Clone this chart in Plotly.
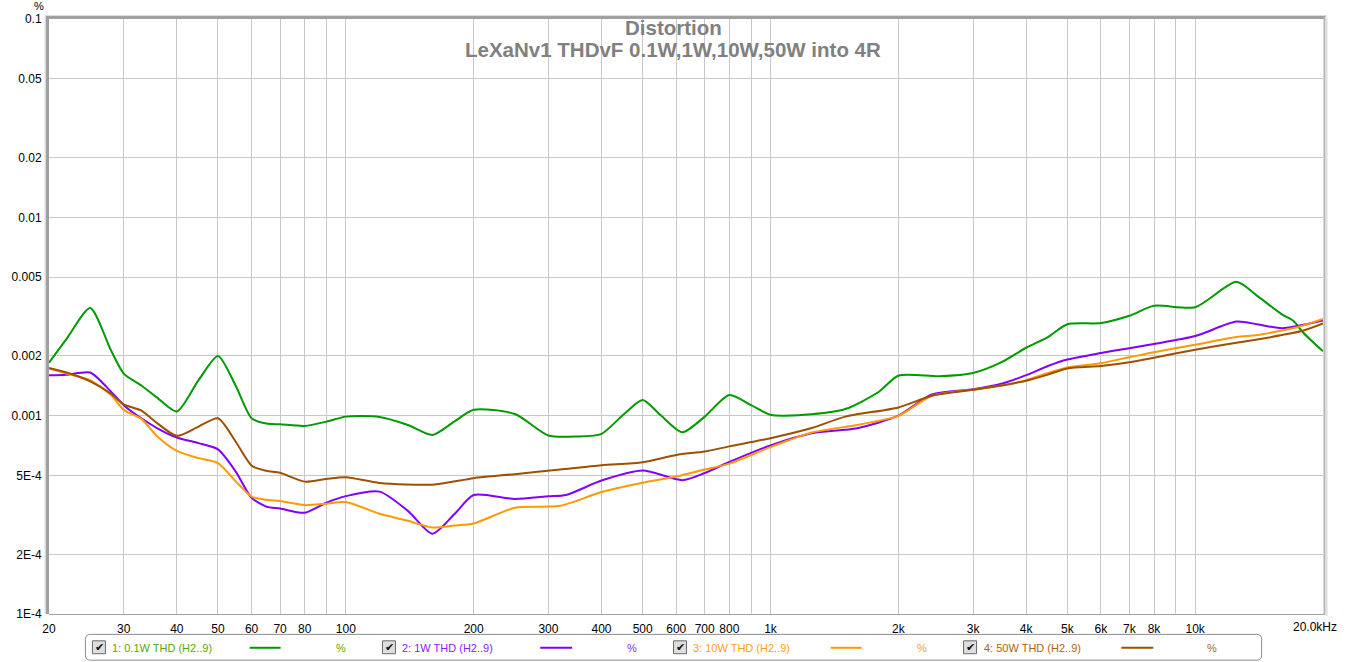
import numpy as np
import plotly.graph_objects as go

# ---------------- data (THD in %) ----------------
series_names = ["1: 0.1W THD (H2..9)", "2: 1W THD (H2..9)", "3: 10W THD (H2..9)", "4: 50W THD (H2..9)"]
series_colors = ["#009a00", "#8000ff", "#ff9900", "#9c5000"]
legend_text_colors = ["#5aa800", "#8a1aff", "#ff9d1a", "#b06010"]

f_01w = [20, 22, 25, 28, 30, 33, 36, 40, 45, 50, 55, 60, 65, 70, 80, 90, 100, 120, 140, 160, 180, 200,
         250, 300, 350, 400, 450, 500, 550, 620, 700, 800, 900, 1000, 1200, 1500, 1800, 2000, 2500,
         3000, 3500, 4000, 4500, 5000, 6000, 7000, 8000, 10000, 12500, 14000, 16000, 17000, 18000, 20000]
thd_01w = [0.00185, 0.00244, 0.00349, 0.00213, 0.00163, 0.00142, 0.00123, 0.00105, 0.00151, 0.0020,
           0.00142, 0.00097, 0.000912, 0.000905, 0.000888, 0.000933, 0.000989, 0.000985, 0.000898,
           0.0008, 0.000933, 0.00107, 0.00102, 0.000794, 0.000785, 0.00081, 0.00101, 0.0012, 0.00101,
           0.000825, 0.000989, 0.00127, 0.00113, 0.00101, 0.00101, 0.00108, 0.00132, 0.00159, 0.00158,
           0.00164, 0.00186, 0.0022, 0.00249, 0.00289, 0.00293, 0.00319, 0.00358, 0.00352, 0.00473,
           0.00402, 0.00324, 0.00302, 0.00261, 0.00211]

f_1w = [20, 22, 25, 28, 30, 33, 36, 40, 45, 50, 55, 60, 65, 70, 80, 90, 100, 120, 140, 160, 180, 200,
        250, 300, 330, 400, 500, 620, 700, 800, 1000, 1250, 1600, 2000, 2400, 3000, 3500, 4000, 4500,
        5000, 6000, 7000, 8000, 10000, 12500, 14000, 16000, 18000, 20000]
thd_1w = [0.0016, 0.00161, 0.00165, 0.00132, 0.00113, 0.00097, 0.000864, 0.000776, 0.000727, 0.000676,
          0.000524, 0.000385, 0.000348, 0.00034, 0.000324, 0.000364, 0.000393, 0.000414, 0.000331,
          0.000254, 0.000318, 0.000398, 0.00038, 0.000392, 0.000398, 0.000471, 0.000529, 0.000473,
          0.000514, 0.000584, 0.000708, 0.000815, 0.000864, 0.001, 0.00128, 0.00136, 0.00145, 0.0016,
          0.00178, 0.00192, 0.00207, 0.00219, 0.0023, 0.00252, 0.00298, 0.00289, 0.00276, 0.00287, 0.00302]

f_10w = [20, 22, 25, 28, 30, 33, 36, 40, 45, 50, 55, 60, 65, 70, 80, 90, 100, 120, 140, 160, 180, 200,
         250, 320, 400, 500, 600, 700, 800, 1000, 1250, 1600, 2000, 2400, 3000, 3500, 4000, 4500, 5000,
         6000, 7000, 8000, 10000, 12500, 14000, 16000, 18000, 20000]
thd_10w = [0.00173, 0.00163, 0.00151, 0.00127, 0.00107, 0.000963, 0.000785, 0.000664, 0.000611, 0.000577,
           0.000467, 0.000391, 0.000377, 0.000371, 0.000354, 0.00036, 0.000367, 0.00032, 0.000295,
           0.000273, 0.000279, 0.000286, 0.000343, 0.000351, 0.000412, 0.000459, 0.000493, 0.000535,
           0.000573, 0.000694, 0.000822, 0.000898, 0.000997, 0.00126, 0.00135, 0.00142, 0.00151, 0.00164,
           0.00175, 0.00184, 0.00197, 0.00209, 0.00228, 0.00249, 0.00255, 0.00269, 0.00285, 0.00307]

f_50w = [20, 22, 25, 28, 30, 33, 36, 40, 45, 50, 55, 60, 65, 70, 80, 90, 100, 120, 160, 200, 250, 320,
         400, 500, 600, 700, 800, 1000, 1250, 1500, 2000, 2400, 3000, 3500, 4000, 4500, 5000, 6000, 7000,
         8000, 10000, 12500, 14000, 16000, 18000, 20000]
thd_50w = [0.00174, 0.00165, 0.00149, 0.00129, 0.00114, 0.00106, 0.000915, 0.000791, 0.000881, 0.00097,
           0.000741, 0.000560, 0.000527, 0.000515, 0.000465, 0.00048, 0.000489, 0.000458, 0.000449,
           0.000484, 0.000507, 0.000535, 0.000562, 0.000582, 0.000634, 0.00066, 0.0007, 0.00077, 0.000866,
           0.000989, 0.0011, 0.00126, 0.00135, 0.00142, 0.0015, 0.00161, 0.00173, 0.00178, 0.00186,
           0.00196, 0.00215, 0.00233, 0.00242, 0.00255, 0.00269, 0.00292]

freqs = [f_01w, f_1w, f_10w, f_50w]
values = [thd_01w, thd_1w, thd_10w, thd_50w]

x_grid = [20, 30, 40, 50, 60, 70, 80, 90, 100, 200, 300, 400, 500, 600, 700, 800, 900, 1000,
          2000, 3000, 4000, 5000, 6000, 7000, 8000, 9000, 10000, 20000]
x_labels = ["20", "30", "40", "50", "60", "70", "80", "", "100", "200", "300", "400", "500", "600",
            "700", "800", "", "1k", "2k", "3k", "4k", "5k", "6k", "7k", "8k", "", "10k", ""]
x_end_label = "20.0kHz"
y_grid = [1e-4, 2e-4, 5e-4, 0.001, 0.002, 0.005, 0.01, 0.02, 0.05, 0.1]
y_labels = ["1E-4", "2E-4", "5E-4", "0.001", "0.002", "0.005", "0.01", "0.02", "0.05", "0.1"]
x_major = [100, 1000, 10000]
y_major = [0.001, 0.01]

title_1 = "Distortion"
title_2 = "LeXaNv1 THDvF 0.1W,1W,10W,50W into 4R"

# ---------------- layout helpers ----------------
W, H = 1346, 662
ML, MR, MT, MB = 47, 23, 15, 48
PW, PH = W - ML - MR, H - MT - MB


def px(x):
    return (x - ML) / PW


def py(y):
    return (H - MB - y) / PH


FONT = "Liberation Sans, Arial, sans-serif"

fig = go.Figure()
for f, v, name, col in zip(freqs, values, series_names, series_colors):
    fig.add_trace(go.Scatter(x=f, y=v, mode="lines", name=name,
                             line=dict(color=col, width=2, shape="spline", smoothing=0.7),
                             showlegend=False, hoverinfo="skip"))

shapes = []
# decade grid lines (darker)
for xv in x_major:
    shapes.append(dict(type="line", xref="x", yref="paper", x0=np.log10(xv), x1=np.log10(xv),
                       y0=0, y1=1, line=dict(color="#808080", width=1), layer="below"))
for yv in y_major:
    shapes.append(dict(type="line", xref="paper", yref="y", x0=0, x1=1, y0=np.log10(yv),
                       y1=np.log10(yv), line=dict(color="#808080", width=1), layer="below"))


def pline(x0, y0, x1, y1, color, width):
    shapes.append(dict(type="line", xref="paper", yref="paper", x0=px(x0), y0=py(y0), x1=px(x1),
                       y1=py(y1), line=dict(color=color, width=width), layer="above"))


# frame
pline(43.5, 11, 43.5, 614, "#dcdcdc", 2)
pline(45.5, 12, 45.5, 614, "#a0a0a0", 3)
pline(43, 12, 1327, 12, "#dcdcdc", 2)
pline(44, 13.5, 1325, 13.5, "#a0a0a0", 3)
pline(1324.5, 13, 1324.5, 615, "#b4b4b4", 2)
pline(1326.5, 14, 1326.5, 616, "#dedede", 2)
pline(47, 614.5, 1324, 614.5, "#a0a0a0", 1)

# legend box (rounded)
bx0, bx1, by0, by1, r = 83.5, 1261.5, 634.5, 660.5, 5
path = (f"M {px(bx0 + r)},{py(by0)} L {px(bx1 - r)},{py(by0)} Q {px(bx1)},{py(by0)} {px(bx1)},{py(by0 + r)} "
        f"L {px(bx1)},{py(by1 - r)} Q {px(bx1)},{py(by1)} {px(bx1 - r)},{py(by1)} "
        f"L {px(bx0 + r)},{py(by1)} Q {px(bx0)},{py(by1)} {px(bx0)},{py(by1 - r)} "
        f"L {px(bx0)},{py(by0 + r)} Q {px(bx0)},{py(by0)} {px(bx0 + r)},{py(by0)} Z")
shapes.append(dict(type="path", xref="paper", yref="paper", path=path,
                   line=dict(color="#8c8c8c", width=1), fillcolor="white", layer="above"))

annotations = []
check_x = [97, 387.5, 679, 969.5]
label_x = [108, 399, 690, 981]
line_x = [(248, 279), (539, 571), (830, 861), (1121, 1153)]
pct_x = [332, 624, 914, 1205]
ly = 648
for i in range(4):
    cx = check_x[i]
    shapes.append(dict(type="rect", xref="paper", yref="paper", x0=px(cx - 6.5), x1=px(cx + 6.5),
                       y0=py(ly - 7), y1=py(ly + 6), line=dict(color="#6a6a6a", width=1),
                       fillcolor="#dedede", layer="above"))
    annotations.append(dict(xref="paper", yref="paper", x=px(cx + 0.5), y=py(ly - 0.5), text="✔",
                            showarrow=False, xanchor="center", yanchor="middle",
                            font=dict(family="DejaVu Sans", size=11, color="#111111")))
    annotations.append(dict(xref="paper", yref="paper", x=px(label_x[i]), y=py(ly), text=series_names[i],
                            showarrow=False, xanchor="left", yanchor="middle",
                            font=dict(family=FONT, size=11, color=legend_text_colors[i])))
    shapes.append(dict(type="line", xref="paper", yref="paper", x0=px(line_x[i][0]), x1=px(line_x[i][1]),
                       y0=py(ly), y1=py(ly), line=dict(color=series_colors[i], width=2), layer="above"))
    annotations.append(dict(xref="paper", yref="paper", x=px(pct_x[i]), y=py(ly), text="%",
                            showarrow=False, xanchor="left", yanchor="middle",
                            font=dict(family=FONT, size=11, color=legend_text_colors[i])))

# titles
annotations.append(dict(xref="paper", yref="paper", x=px(672), y=py(23.5), text=f"<b>{title_1}</b>",
                        showarrow=False, xanchor="center", yanchor="middle",
                        font=dict(family=FONT, size=20.5, color="#808080")))
annotations.append(dict(xref="paper", yref="paper", x=px(672), y=py(45.5), text=f"<b>{title_2}</b>",
                        showarrow=False, xanchor="center", yanchor="middle",
                        font=dict(family=FONT, size=20.5, color="#808080")))
# unit label
annotations.append(dict(xref="paper", yref="paper", x=px(36.5), y=py(1.5), text="%",
                        showarrow=False, xanchor="center", yanchor="middle", borderpad=0,
                        font=dict(family=FONT, size=11, color="black")))
# last x label (drawn slightly left of the axis end, as in the original)
annotations.append(dict(xref="paper", yref="paper", x=px(1339), y=py(627), text=x_end_label,
                        showarrow=False, xanchor="right", yanchor="middle",
                        font=dict(family=FONT, size=12, color="black")))

fig.update_layout(
    autosize=True,
    margin=dict(l=ML, r=MR, t=MT, b=MB, pad=0),
    paper_bgcolor="white", plot_bgcolor="white",
    font=dict(family=FONT, size=12, color="black"),
    shapes=shapes, annotations=annotations,
    showlegend=False,
)
fig.update_xaxes(type="log", range=[np.log10(20), np.log10(20000)], tickmode="array",
                 tickvals=x_grid, ticktext=x_labels, showgrid=True, gridcolor="#c8c8c8", gridwidth=1,
                 showline=False, zeroline=False, ticks="outside", ticklen=4, tickcolor="rgba(0,0,0,0)",
                 tickfont=dict(size=12, color="black"))
fig.update_yaxes(type="log", range=[-4, -1], tickmode="array", tickvals=y_grid, ticktext=y_labels,
                 showgrid=True, gridcolor="#c8c8c8", gridwidth=1, showline=False, zeroline=False,
                 ticks="outside", ticklen=4, tickcolor="rgba(0,0,0,0)",
                 tickfont=dict(size=12, color="black"))

post = ("document.documentElement.style.margin='0';document.documentElement.style.height='100%';"
        "document.documentElement.style.overflow='hidden';"
        "document.body.style.margin='0';document.body.style.height='100%';document.body.style.overflow='hidden';"
        "var gd=document.getElementById('{plot_id}');gd.style.width='100vw';gd.style.height='100vh';"
        "Plotly.Plots.resize(gd);")
fig.write_html("out.html", config={"displayModeBar": False, "responsive": True},
               default_width="100vw", default_height="100vh", post_script=post)
